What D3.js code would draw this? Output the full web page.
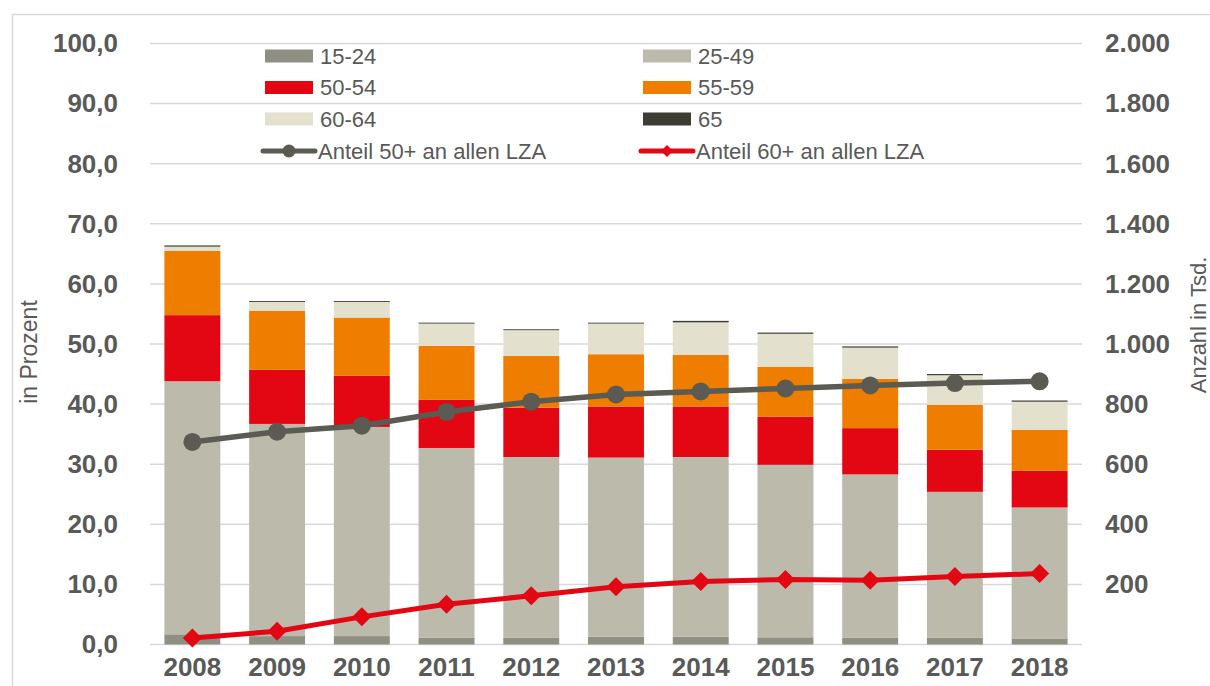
<!DOCTYPE html>
<html>
<head>
<meta charset="utf-8">
<script src="https://cdn.jsdelivr.net/npm/d3@7/dist/d3.min.js"></script>
<style>
  html, body { margin: 0; padding: 0; background: #fff; }
  svg { display: block; }
  text { font-family: "Liberation Sans", Arial, sans-serif; fill: #595959; }
</style>
</head>
<body>
<svg id="chart" width="1210" height="686"></svg>
<script>
// ---- data (counts in thousands, shares in percent) ----
const years   = ["2008","2009","2010","2011","2012","2013","2014","2015","2016","2017","2018"];
const a15_24  = [34, 28, 28, 22, 22, 26, 26, 24, 22, 22, 20];
const a25_49  = [842, 706, 696, 632, 602, 596, 598, 574, 544, 486, 436];
const a50_54  = [220, 180, 170, 160, 164, 170, 168, 160, 154, 140, 122];
const a55_59  = [214, 196, 194, 180, 172, 174, 172, 166, 164, 150, 136];
const a60_64  = [14, 30, 52, 74, 86, 102, 108, 110, 104, 98, 94];
const a65     = [4, 3, 3, 3, 3, 3, 5, 4, 4, 4, 4];
const share50 = [33.7, 35.4, 36.4, 38.7, 40.4, 41.6, 42.1, 42.6, 43.1, 43.5, 43.8];
const share60 = [1.1, 2.2, 4.6, 6.7, 8.1, 9.6, 10.5, 10.8, 10.7, 11.3, 11.8];
const leftTicks  = [0, 10, 20, 30, 40, 50, 60, 70, 80, 90, 100];
const rightTicks = [200, 400, 600, 800, 1000, 1200, 1400, 1600, 1800, 2000];
const seriesNames = ["15-24", "25-49", "50-54", "55-59", "60-64", "65"];
const lineNames = ["Anteil 50+ an allen LZA", "Anteil 60+ an allen LZA"];

const seriesData = [a15_24, a25_49, a50_54, a55_59, a60_64, a65];
const colors = ["#8f8f83", "#bbbaab", "#e30613", "#ef7d00", "#e3e1cd", "#3c3c34"];
const line50Color = "#5b5b53";
const line60Color = "#e30613";

const svg = d3.select("#chart");
const de = d3.formatLocale({decimal: ",", thousands: ".", grouping: [3], currency: ["", "€"]});
const fmtL = de.format(".1f");
const fmtR = de.format(",d");

// frame
svg.append("rect").attr("x", 12.5).attr("y", 14.5).attr("width", 1240).attr("height", 700)
  .attr("fill", "none").attr("stroke", "#d9d9d9").attr("stroke-width", 1.5);

const x = d3.scaleBand().domain(years).range([150, 1082]).paddingInner(0.34).paddingOuter(0.17);
const yL = d3.scaleLinear().domain([0, 100]).range([644.5, 43.5]);
const yR = d3.scaleLinear().domain([0, 2000]).range([644.5, 43.5]);

// gridlines
svg.append("g").selectAll("line").data(leftTicks).join("line")
  .attr("x1", 150).attr("x2", 1082)
  .attr("y1", d => yL(d)).attr("y2", d => yL(d))
  .attr("stroke", "#d9d9d9").attr("stroke-width", 1.5);

// left axis
const gL = svg.append("g").attr("transform", "translate(118,0)")
  .call(d3.axisLeft(yL).tickValues(leftTicks).tickFormat(fmtL).tickSize(0).tickPadding(0));
gL.select(".domain").remove();
gL.selectAll("text").attr("font-size", 26).attr("font-weight", "bold").attr("fill", "#595959")
  .attr("font-family", "Liberation Sans, Arial, sans-serif");

// right axis
const gR = svg.append("g").attr("transform", "translate(1105,0)")
  .call(d3.axisRight(yR).tickValues(rightTicks).tickFormat(fmtR).tickSize(0).tickPadding(0));
gR.select(".domain").remove();
gR.selectAll("text").attr("font-size", 26).attr("font-weight", "bold").attr("fill", "#595959")
  .attr("font-family", "Liberation Sans, Arial, sans-serif");

// bottom axis
const gB = svg.append("g").attr("transform", "translate(0,645)")
  .call(d3.axisBottom(x).tickSize(0).tickPadding(0));
gB.select(".domain").remove();
gB.selectAll("text").attr("font-size", 26).attr("font-weight", "bold").attr("fill", "#595959")
  .attr("font-family", "Liberation Sans, Arial, sans-serif").attr("dy", "1.21em");

// stacked bars
const table = years.map((yr, i) => {
  const o = {year: yr};
  seriesNames.forEach((s, k) => o[s] = seriesData[k][i]);
  return o;
});
const stack = d3.stack().keys(seriesNames)(table);
svg.append("g").selectAll("g").data(stack).join("g")
  .attr("fill", (d, k) => colors[k])
  .selectAll("rect").data(d => d).join("rect")
  .attr("x", d => x(d.data.year))
  .attr("width", x.bandwidth())
  .attr("y", d => yR(d[1]))
  .attr("height", d => yR(d[0]) - yR(d[1]));

// lines
const cx = i => x(years[i]) + x.bandwidth() / 2;
const line = d3.line().x((d, i) => cx(i)).y(d => yL(d));
svg.append("path").datum(share50).attr("d", line).attr("fill", "none")
  .attr("stroke", line50Color).attr("stroke-width", 5.5).attr("stroke-linejoin", "round");
svg.append("g").selectAll("circle").data(share50).join("circle")
  .attr("cx", (d, i) => cx(i)).attr("cy", d => yL(d)).attr("r", 9).attr("fill", line50Color);

svg.append("path").datum(share60).attr("d", line).attr("fill", "none")
  .attr("stroke", line60Color).attr("stroke-width", 5).attr("stroke-linejoin", "round");
const diamond = (s) => `M0,${-s}L${s},0L0,${s}L${-s},0Z`;
svg.append("g").selectAll("path").data(share60).join("path")
  .attr("transform", (d, i) => `translate(${cx(i)},${yL(d)})`)
  .attr("d", diamond(9.5)).attr("fill", line60Color);

// axis titles
svg.append("text").attr("transform", "translate(37,352) rotate(-90)")
  .attr("text-anchor", "middle").attr("font-size", 23).text("in Prozent");
svg.append("text").attr("transform", "translate(1206,325) rotate(-90)")
  .attr("text-anchor", "middle").attr("font-size", 22).text("Anzahl in Tsd.");

// legend
const legCols = [265, 643];
const legRows = [56, 87.5, 119, 151];
const leg = svg.append("g");
seriesNames.forEach((s, k) => {
  const cxl = legCols[k % 2], cy = legRows[Math.floor(k / 2)];
  leg.append("rect").attr("x", cxl).attr("y", cy - 6.5).attr("width", 48).attr("height", 13).attr("fill", colors[k]);
  leg.append("text").attr("x", cxl + 55).attr("y", cy).attr("dy", "0.36em").attr("font-size", 22).text(s);
});
// line legend entries
[[line50Color, "circle"], [line60Color, "diamond"]].forEach(([c, m], k) => {
  const lx = legCols[k] - 2, cy = legRows[3];
  leg.append("line").attr("x1", lx).attr("x2", lx + 52).attr("y1", cy).attr("y2", cy)
    .attr("stroke", c).attr("stroke-width", 5).attr("stroke-linecap", "round");
  if (m === "circle") {
    leg.append("circle").attr("cx", lx + 26).attr("cy", cy).attr("r", 6.5).attr("fill", c);
  } else {
    leg.append("path").attr("transform", `translate(${lx + 26},${cy})`).attr("d", diamond(6)).attr("fill", c);
  }
  leg.append("text").attr("x", lx + 55).attr("y", cy).attr("dy", "0.36em").attr("font-size", 22).text(lineNames[k]);
});
</script>
</body>
</html>
